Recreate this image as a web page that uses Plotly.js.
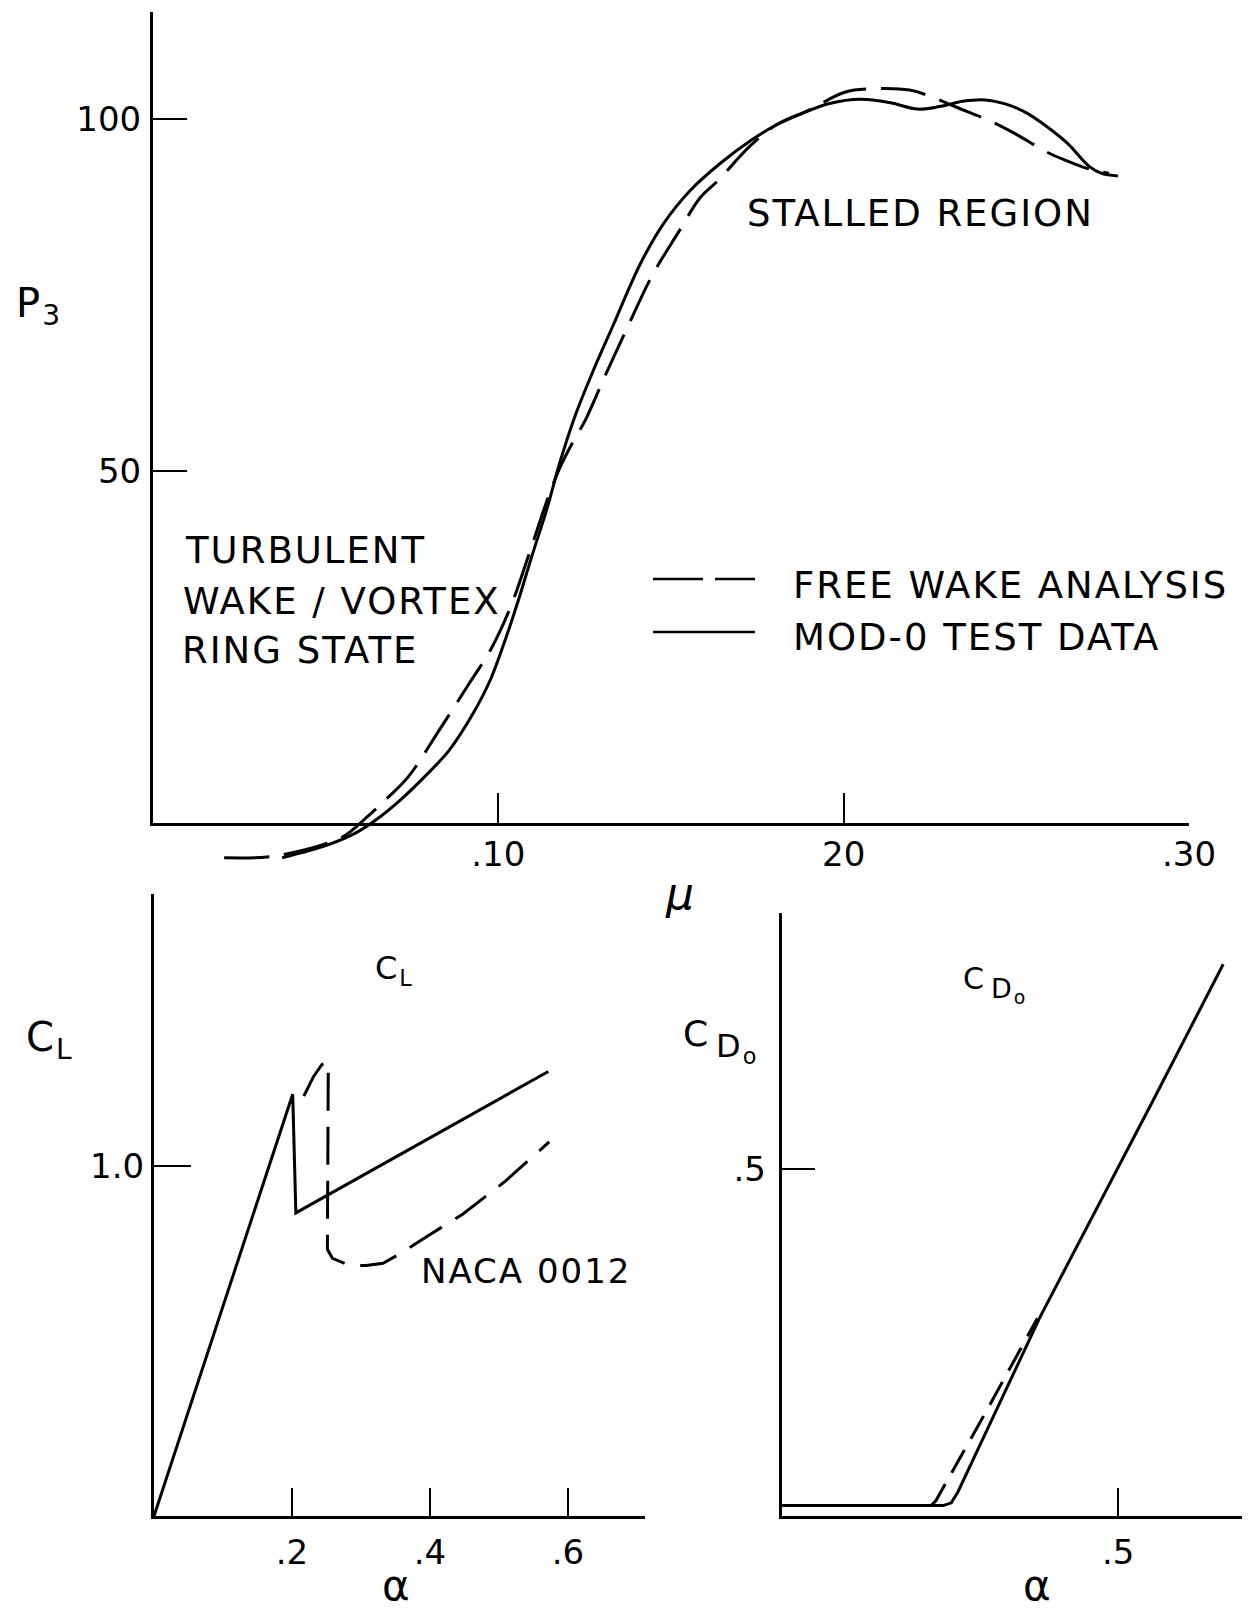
<!DOCTYPE html>
<html>
<head>
<meta charset="utf-8">
<script src="https://cdn.plot.ly/plotly-3.0.1.min.js"></script>
<style>
html,body{margin:0;padding:0;background:#fff;}
#chart{width:1256px;height:1612px;}
.annotation-text{letter-spacing:2px;}
</style>
</head>
<body>
<div id="chart"></div>
<script>
// ---------- DATA ----------
// Top panel: P3 vs mu
const muFreeWake = [0.0206, 0.0330, 0.0400, 0.0480, 0.0551, 0.0620, 0.0681, 0.0739, 0.0835, 0.0916, 0.0977, 0.1035, 0.1096, 0.1142, 0.1177, 0.1215, 0.1252, 0.1310, 0.1374, 0.1446, 0.1519, 0.1586, 0.1635, 0.1730, 0.1803, 0.1901, 0.2003, 0.2093, 0.2191, 0.2252, 0.2325, 0.2420, 0.2504, 0.2588, 0.2649, 0.2710, 0.2768];
const p3FreeWake = [-5.0, -4.9, -4.3, -3.3, -2.0, 0.8, 3.6, 6.5, 13.6, 19.8, 24.5, 30.6, 39.2, 45.9, 50.3, 54.0, 57.2, 63.6, 70.4, 77.8, 83.7, 88.9, 91.2, 96.2, 99.1, 101.3, 103.8, 104.3, 104.1, 103.2, 101.7, 99.8, 97.7, 95.3, 94.0, 92.9, 92.3];
const muModTest = [0.0374, 0.0504, 0.0586, 0.0646, 0.0716, 0.0786, 0.0858, 0.0928, 0.0977, 0.1023, 0.1058, 0.1096, 0.1142, 0.1177, 0.1223, 0.1272, 0.1330, 0.1412, 0.1478, 0.1557, 0.1643, 0.1730, 0.1803, 0.1875, 0.1959, 0.2049, 0.2136, 0.2214, 0.2281, 0.2345, 0.2409, 0.2470, 0.2528, 0.2586, 0.2649, 0.2710, 0.2745, 0.2794];
const p3ModTest = [-5.0, -3.2, -1.5, 0.4, 3.2, 6.5, 10.3, 15.6, 20.3, 26.4, 31.6, 37.7, 44.8, 51.0, 57.9, 63.9, 70.4, 79.5, 85.1, 89.9, 93.7, 96.9, 99.1, 100.7, 102.2, 102.8, 102.3, 101.4, 101.8, 102.5, 102.7, 102.1, 100.9, 99.0, 96.5, 93.3, 92.3, 91.9];
const muTickVals = [0.10, 0.20, 0.30];
const muTickText = ['.10', '20', '.30'];
const p3TickVals = [50, 100];
const p3TickText = ['50', '100'];

// Bottom-left panel: CL vs alpha
const alphaClTest = [0, 0.201, 0.2056, 0.5715];
const clTest = [0, 1.205, 0.866, 1.270];
const alphaClNaca = [0.2172, 0.2313, 0.2435, 0.2526, 0.2513, 0.2587, 0.2831, 0.3075, 0.3319, 0.3563, 0.3990, 0.4478, 0.5088, 0.5728];
const clNaca = [1.200, 1.256, 1.290, 1.297, 0.762, 0.736, 0.716, 0.716, 0.722, 0.749, 0.803, 0.863, 0.956, 1.069];
const clAlphaTickVals = [0.2, 0.4, 0.6];
const clAlphaTickText = ['.2', '.4', '.6'];
const clTickVals = [1.0];
const clTickText = ['1.0'];

// Bottom-right panel: CDo vs alpha
const alphaCdTest = [0, 0.240, 0.252, 0.262, 0.384, 0.552, 0.656];
const cdTest = [0.015, 0.015, 0.019, 0.035, 0.287, 0.599, 0.795];
const alphaCdDash = [0.222, 0.229, 0.300, 0.364, 0.380];
const cdDash = [0.015, 0.022, 0.144, 0.258, 0.285];
const cdAlphaTickVals = [0.5];
const cdAlphaTickText = ['.5'];
const cdTickVals = [0.5];
const cdTickText = ['.5'];

// ---------- LAYOUT HELPERS ----------
const W = 1256, H = 1612;
const fx = x => x / W;
const fy = y => 1 - y / H;
const FONT = 'DejaVu Sans';
const BLACK = '#000';

// top panel geometry (pixels)
const topLeft = 153, topRight = 1189, topTopPx = 12, topZeroPx = 822.6;
const P3_TOP = 115.2, P3_BOT = -6.5;
const p3Scale = (topZeroPx - topTopPx) / P3_TOP;
const topBotPx = topZeroPx - P3_BOT * p3Scale;

const baseAxis = {
  showline: true, linecolor: BLACK, linewidth: 3, showgrid: false, zeroline: false,
  ticks: 'inside', tickcolor: BLACK, tickwidth: 2, tickmode: 'array',
  tickfont: {family: FONT, size: 34, color: BLACK}, fixedrange: true
};

const traces = [
  // invisible companion that ties the visible top axes (x / y, which start at P3 = 0) together
  {x: muModTest, y: p3ModTest, xaxis: 'x', yaxis: 'y', mode: 'lines', hoverinfo: 'skip', showlegend: false,
   line: {color: 'rgba(0,0,0,0)', width: 0}},
  {x: muFreeWake, y: p3FreeWake, xaxis: 'x', yaxis: 'y2', mode: 'lines', name: 'FREE WAKE ANALYSIS',
   line: {color: BLACK, width: 3, dash: '45px,15px', shape: 'spline', smoothing: 1}},
  {x: muModTest, y: p3ModTest, xaxis: 'x', yaxis: 'y2', mode: 'lines', name: 'MOD-0 TEST DATA',
   line: {color: BLACK, width: 3, shape: 'spline', smoothing: 1}},
  {x: alphaClTest, y: clTest, xaxis: 'x2', yaxis: 'y3', mode: 'lines', name: 'CL test',
   line: {color: BLACK, width: 3}},
  {x: alphaClNaca, y: clNaca, xaxis: 'x2', yaxis: 'y3', mode: 'lines', name: 'NACA 0012',
   line: {color: BLACK, width: 3, dash: '38px,16px'}},
  {x: alphaCdTest, y: cdTest, xaxis: 'x3', yaxis: 'y4', mode: 'lines', name: 'CDo test',
   line: {color: BLACK, width: 3}},
  {x: alphaCdDash, y: cdDash, xaxis: 'x3', yaxis: 'y4', mode: 'lines', name: 'CDo analysis',
   line: {color: BLACK, width: 3, dash: '26px,13px'}}
];

function ann(text, x, y, size, xanchor, extra) {
  return Object.assign({text: text, xref: 'paper', yref: 'paper', x: fx(x), y: fy(y),
    xanchor: xanchor || 'left', yanchor: 'middle', showarrow: false,
    font: {family: FONT, size: size, color: BLACK}}, extra || {});
}

const layout = {
  width: W, height: H,
  margin: {l: 0, r: 0, t: 0, b: 0, pad: 0},
  paper_bgcolor: '#fff', plot_bgcolor: 'rgba(0,0,0,0)',
  showlegend: false,
  font: {family: FONT, color: BLACK},
  xaxis: Object.assign({}, baseAxis, {
    domain: [fx(topLeft), fx(topRight)], range: [0, 0.30], anchor: 'y',
    ticklen: 30, tickvals: muTickVals, ticktext: muTickText, ticklabelstandoff: 0}),
  yaxis: Object.assign({}, baseAxis, {
    domain: [fy(topZeroPx), fy(topTopPx)], range: [0, P3_TOP], anchor: 'x',
    ticklen: 34, tickvals: p3TickVals, ticktext: p3TickText, ticklabelstandoff: 2}),
  yaxis2: {domain: [fy(topBotPx), fy(topTopPx)], range: [P3_BOT, P3_TOP], anchor: 'x',
    visible: false, showgrid: false, zeroline: false, fixedrange: true},
  xaxis2: Object.assign({}, baseAxis, {
    domain: [fx(154), fx(645)], range: [0, (645 - 154) / 690], anchor: 'y3',
    ticklen: 28, tickvals: clAlphaTickVals, ticktext: clAlphaTickText, ticklabelstandoff: 4}),
  yaxis3: Object.assign({}, baseAxis, {
    domain: [fy(1516), fy(894)], range: [0, (1516 - 894) / 350], anchor: 'x2',
    ticklen: 37, tickvals: clTickVals, ticktext: clTickText, ticklabelstandoff: 0}),
  xaxis3: Object.assign({}, baseAxis, {
    domain: [fx(781.7), fx(1242)], range: [0, (1242 - 781.7) / 673], anchor: 'y4',
    ticklen: 28, tickvals: cdAlphaTickVals, ticktext: cdAlphaTickText, ticklabelstandoff: 4}),
  yaxis4: Object.assign({}, baseAxis, {
    domain: [fy(1516), fy(913)], range: [0, (1516 - 913) / 694], anchor: 'x3',
    ticklen: 33, tickvals: cdTickVals, ticktext: cdTickText, ticklabelstandoff: 6}),
  shapes: [
    {type: 'line', xref: 'paper', yref: 'paper', x0: fx(653), x1: fx(755), y0: fy(579), y1: fy(579),
     line: {color: BLACK, width: 2.5, dash: '50px,12px'}},
    {type: 'line', xref: 'paper', yref: 'paper', x0: fx(653), x1: fx(755), y0: fy(632), y1: fy(632),
     line: {color: BLACK, width: 2.5}}
  ],
  annotations: [
    ann('P<sub>3</sub>', 14, 306, 40),
    ann('STALLED REGION', 745, 213, 37),
    ann('TURBULENT', 183, 550, 37),
    ann('WAKE / VORTEX', 181, 601, 37),
    ann('RING STATE', 180, 650, 37),
    ann('FREE WAKE ANALYSIS', 791, 585, 37),
    ann('MOD-0 TEST DATA', 791, 637, 37),
    ann('<i>μ</i>', 680, 893, 44, 'center'),
    ann('C<sub>L</sub>', 373, 970, 32),
    ann('C<sub>L</sub>', 24, 1040, 40),
    ann('NACA 0012', 419, 1271, 34),
    ann('α', 397, 1612, 42, 'center', {yanchor: 'bottom'}),
    ann('C', 961, 978, 30),
    ann('D<sub>o</sub>', 989, 990, 27),
    ann('C', 681, 1033, 36),
    ann('D<sub>o</sub>', 714, 1048, 32),
    ann('α', 1038, 1612, 42, 'center', {yanchor: 'bottom'})
  ]
};

Plotly.newPlot('chart', traces, layout, {staticPlot: true, displayModeBar: false});
</script>
</body>
</html>
